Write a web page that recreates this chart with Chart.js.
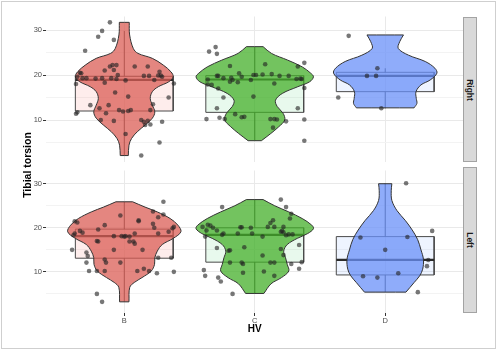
<!DOCTYPE html>
<html><head><meta charset="utf-8">
<script src="https://cdn.jsdelivr.net/npm/chart.js@4.4.1/dist/chart.umd.min.js"></script>
<style>
html,body{margin:0;padding:0;background:#fff;}
#wrap{position:relative;width:500px;height:351px;overflow:hidden;font-family:"Liberation Sans",Arial,sans-serif;background:#fff;}
#wrap canvas{position:absolute;left:0;}
#frame{position:absolute;left:1px;top:1px;width:495px;height:348px;box-sizing:border-box;border:1px solid #cfcfcf;}
.strip{position:absolute;left:463px;width:14px;background:#d9d9d9;border:1px solid #a3a3a3;box-sizing:border-box;}
.strip span{position:absolute;left:50%;top:50%;transform:translate(-50%,-50%) rotate(90deg);font-weight:bold;font-size:8.5px;color:#1a1a1a;white-space:nowrap;}
#ytitle{position:absolute;left:27px;top:165px;transform:translate(-50%,-50%) rotate(-90deg);font-weight:bold;font-size:10.5px;color:#000;white-space:nowrap;}
</style>
</head><body>
<div id="wrap">
  <canvas id="cTop" width="500" height="170" style="top:0px"></canvas>
  <canvas id="cBot" width="500" height="186" style="top:165px"></canvas>
  <div class="strip" style="top:17px;height:145px"><span>Right</span></div>
  <div class="strip" style="top:167px;height:146px"><span>Left</span></div>
  <div id="ytitle">Tibial torsion</div>
  <div id="frame"></div>
</div>
<script>
// ---------- data ----------
const categories = ['B', 'C', 'D'];
const panels = ['Right', 'Left'];
const yTickValues = [5, 10, 15, 20, 25, 30];
const yLabelValues = [10, 20, 30];

// violin outlines: value levels (top to bottom) and half widths (x units)
const rightB_levels = [31.7, 28.9, 25.9, 24.8, 23.7, 22.2, 20.7, 19.6, 18.5, 17.4, 16.3, 14.8, 13.3, 11.8, 10.4, 8.9, 7.4, 5.9, 4.4, 2.1];
const rightB_widths = [0.038, 0.041, 0.069, 0.105, 0.215, 0.299, 0.358, 0.375, 0.341, 0.261, 0.215, 0.199, 0.215, 0.234, 0.215, 0.161, 0.100, 0.056, 0.036, 0.031];
const rightC_levels = [26.3, 24.8, 23.3, 21.8, 20.4, 19.6, 18.5, 17.4, 15.9, 14.4, 13.0, 11.5, 10.0, 8.5, 7.0, 5.4];
const rightC_widths = [0.064, 0.128, 0.253, 0.364, 0.429, 0.450, 0.421, 0.330, 0.211, 0.159, 0.172, 0.217, 0.230, 0.184, 0.123, 0.051];
const rightD_levels = [28.9, 27.4, 25.9, 24.4, 23.0, 21.5, 20.4, 18.9, 17.8, 16.3, 14.8, 13.7, 12.7];
const rightD_widths = [0.140, 0.111, 0.100, 0.179, 0.307, 0.381, 0.396, 0.345, 0.274, 0.236, 0.238, 0.243, 0.221];
const leftB_levels = [25.9, 24.7, 23.6, 22.1, 20.6, 19.1, 17.6, 16.2, 14.7, 13.2, 11.7, 10.2, 8.7, 7.6, 6.5, 3.2];
const leftB_widths = [0.064, 0.159, 0.253, 0.352, 0.411, 0.434, 0.375, 0.291, 0.253, 0.234, 0.232, 0.207, 0.136, 0.077, 0.042, 0.036];
const leftC_levels = [26.4, 25.0, 23.6, 22.1, 20.6, 19.8, 18.7, 17.6, 16.2, 14.7, 13.2, 11.7, 10.2, 8.7, 7.3, 5.1];
const leftC_widths = [0.064, 0.153, 0.261, 0.364, 0.437, 0.450, 0.406, 0.326, 0.249, 0.222, 0.236, 0.249, 0.261, 0.205, 0.125, 0.070];
const leftD_levels = [30.0, 28.4, 26.2, 23.9, 21.7, 19.5, 17.3, 15.0, 12.8, 10.6, 9.1, 7.6, 5.4];
const leftD_widths = [0.051, 0.046, 0.051, 0.090, 0.153, 0.207, 0.249, 0.274, 0.293, 0.287, 0.264, 0.222, 0.159];

// box stats: [lower whisker, Q1, median, Q3, upper whisker]
const rightB_box = [2.1, 12.0, 18.9, 19.7, 29.8];
const rightC_box = [5.4, 11.7, 19.0, 19.85, 26.2];
const rightD_box = [12.6, 16.3, 19.8, 20.6, 21.5];
const leftB_box = [3.2, 13.1, 18.1, 19.7, 25.9];
const leftC_box = [5.0, 12.2, 18.4, 20.0, 26.4];
const leftD_box = [5.4, 9.3, 12.7, 18.0, 30.1];

// jittered observations: values and horizontal jitter (x units)
const rightB_y = [31.7, 29.8, 28.5, 27.8, 25.4, 22.2, 22.2, 21.9, 21.0, 21.1, 20.0, 21.9, 21.9, 20.7, 20.5, 20.4, 19.6, 19.3, 19.3, 19.2, 19.3, 18.3, 19.3, 19.1, 18.8, 19.8, 19.8, 18.9, 19.9, 19.9, 19.6, 18.0, 18.1, 16.1, 15.2, 15.0, 13.5, 13.3, 13.3, 12.6, 11.5, 12.2, 11.9, 12.0, 12.2, 11.7, 11.4, 12.2, 10.0, 9.8, 10.0, 9.6, 9.8, 8.9, 9.0, 9.6, 6.9, 5.0, 2.1];
const rightB_jit = [-0.11, -0.17, -0.20, -0.08, -0.30, -0.09, -0.06, -0.11, -0.15, -0.08, -0.05, 0.08, 0.18, 0.27, -0.34, -0.33, -0.36, -0.32, -0.29, -0.22, -0.17, -0.15, -0.10, -0.06, 0.01, 0.15, 0.19, 0.23, 0.26, 0.28, 0.29, -0.37, 0.38, -0.07, 0.03, 0.34, 0.22, -0.26, -0.12, -0.19, -0.14, -0.04, -0.01, 0.03, 0.05, -0.36, -0.37, 0.20, -0.18, -0.08, 0.13, 0.15, 0.18, 0.16, 0.20, 0.29, 0.01, 0.27, 0.13];
const rightC_y = [25.2, 26.2, 24.7, 22.4, 22.0, 21.9, 22.7, 19.8, 19.8, 19.4, 20.4, 19.6, 18.5, 19.3, 18.9, 18.4, 19.0, 20.0, 20.0, 20.1, 20.2, 19.8, 18.1, 19.8, 19.1, 19.2, 19.1, 18.9, 17.9, 17.8, 17.0, 17.1, 15.0, 15.2, 12.6, 12.6, 11.3, 10.6, 10.7, 10.2, 10.5, 10.2, 10.2, 10.2, 10.1, 9.7, 8.3, 10.1, 5.4];
const rightC_jit = [-0.35, -0.30, -0.29, 0.08, -0.19, 0.33, 0.38, -0.29, -0.28, -0.18, -0.12, -0.10, -0.19, -0.24, -0.17, -0.13, -0.36, -0.01, 0.01, 0.06, 0.13, 0.19, 0.15, 0.26, 0.32, 0.35, 0.36, -0.03, -0.36, -0.33, -0.28, 0.38, -0.24, -0.01, -0.29, 0.33, -0.15, -0.10, -0.08, -0.37, -0.27, -0.23, 0.12, 0.15, 0.17, 0.24, 0.14, 0.38, 0.38];
const rightD_y = [28.7, 21.5, 19.8, 19.8, 15.0, 12.6];
const rightD_jit = [-0.28, -0.06, -0.14, -0.07, -0.36, -0.03];
const leftB_y = [25.9, 23.7, 22.4, 23.0, 22.8, 21.7, 21.5, 21.5, 21.2, 20.6, 20.9, 20.0, 20.2, 19.9, 19.1, 18.7, 19.6, 19.3, 18.9, 18.7, 18.3, 18.7, 18.0, 18.1, 18.0, 18.1, 18.1, 16.9, 16.9, 17.0, 16.9, 16.4, 15.0, 15.0, 15.0, 14.4, 13.6, 12.8, 12.1, 12.1, 13.2, 13.2, 12.1, 10.2, 10.2, 10.2, 10.2, 10.7, 10.2, 9.7, 10.0, 5.0, 3.2];
const leftB_jit = [0.30, 0.22, 0.26, 0.30, -0.03, 0.11, 0.11, -0.38, -0.36, -0.15, 0.22, 0.23, 0.38, 0.37, 0.34, 0.26, -0.20, -0.34, -0.32, -0.38, -0.39, 0.08, 0.04, -0.02, 0.00, 0.01, -0.08, 0.07, 0.04, -0.21, -0.20, 0.08, -0.40, -0.08, 0.14, -0.29, -0.28, -0.15, -0.14, -0.03, 0.26, 0.36, -0.29, -0.27, -0.21, -0.15, 0.10, 0.15, 0.19, 0.25, 0.38, -0.21, -0.17];
const leftC_y = [26.4, 24.7, 24.7, 23.2, 22.1, 21.7, 21.1, 20.2, 20.2, 20.2, 19.3, 19.1, 19.0, 18.5, 18.5, 18.3, 18.0, 20.1, 20.1, 20.0, 18.7, 18.7, 18.7, 20.2, 20.7, 20.5, 20.0, 19.4, 19.4, 18.4, 18.0, 15.6, 16.1, 15.4, 14.8, 14.9, 15.2, 13.7, 13.8, 12.1, 12.1, 12.1, 12.1, 11.8, 11.8, 12.2, 10.7, 9.8, 10.1, 9.1, 10.4, 9.1, 8.7, 7.8, 5.0];
const leftC_jit = [0.20, -0.25, 0.24, 0.28, 0.27, 0.14, 0.12, 0.10, 0.15, 0.22, 0.21, 0.20, 0.22, 0.26, 0.29, 0.24, 0.06, -0.11, -0.10, -0.03, -0.02, -0.13, -0.24, -0.40, -0.36, -0.34, -0.32, -0.29, -0.37, -0.25, -0.38, -0.08, 0.34, -0.29, -0.20, -0.19, 0.20, 0.06, 0.22, -0.19, -0.10, 0.12, 0.15, -0.09, 0.28, 0.36, 0.34, -0.09, 0.07, 0.15, -0.39, -0.38, -0.28, -0.26, -0.17];
const leftD_y = [30.1, 19.3, 17.8, 17.9, 15.0, 12.7, 11.3, 9.7, 9.0, 8.7, 5.4];
const leftD_jit = [0.16, 0.36, -0.19, 0.17, 0.00, 0.33, 0.32, 0.10, -0.17, -0.06, 0.25];

// ---------- styling ----------
const violinFill = ['rgba(219,94,86,0.75)', 'rgba(68,175,42,0.75)', 'rgba(106,144,248,0.75)'];
const boxFill = ['rgba(248,118,109,0.13)', 'rgba(0,186,56,0.09)', 'rgba(97,156,255,0.11)'];
const BOX_HALF = 0.375;
const Y_MIN = 0.667, Y_MAX = 33.0;
const FONT = '"Liberation Sans", Arial, sans-serif';

function violinOutline(c, levels, widths) {
  const n = levels.length - 1;
  const L = i => ({x: c - widths[i], y: levels[i]});
  const R = i => ({x: c + widths[i], y: levels[i]});
  const pts = [];
  for (let i = n; i >= 0; i--) pts.push(L(i));
  pts.push(L(0)); pts.push(R(0));
  for (let i = 0; i <= n; i++) pts.push(R(i));
  pts.push(R(n)); pts.push(L(n)); pts.push(L(n));
  return pts;
}

function groupDatasets(gi, levels, widths, box, ys, jit) {
  const c = gi + 1;
  const [lo, q1, med, q3, hi] = box;
  const base = {type: 'line', pointRadius: 0, pointHoverRadius: 0, tension: 0};
  return [
    Object.assign({}, base, {
      data: [{x: c - BOX_HALF, y: q1}, {x: c - BOX_HALF, y: q3}, {x: c + BOX_HALF, y: q3}, {x: c + BOX_HALF, y: q1}, {x: c - BOX_HALF, y: q1}],
      fill: 'shape', backgroundColor: boxFill[gi], borderColor: '#4a4a4a', borderWidth: 1, order: 5
    }),
    Object.assign({}, base, {data: [{x: c, y: q3}, {x: c, y: hi}], fill: false, borderColor: '#3a3a3a', borderWidth: 1, order: 4}),
    Object.assign({}, base, {data: [{x: c, y: lo}, {x: c, y: q1}], fill: false, borderColor: '#3a3a3a', borderWidth: 1, order: 4}),
    Object.assign({}, base, {data: [{x: c - BOX_HALF, y: med}, {x: c + BOX_HALF, y: med}], fill: false, borderColor: '#2a2a2a', borderWidth: 2.2, order: 4}),
    Object.assign({}, base, {
      data: violinOutline(c, levels, widths), tension: 0.35,
      fill: 'shape', backgroundColor: violinFill[gi], borderColor: '#333333', borderWidth: 1, order: 2
    }),
    {
      type: 'line', showLine: false, order: 1,
      data: ys.map((v, i) => ({x: c + jit[i], y: v})),
      pointRadius: 2.3, pointHoverRadius: 2.3, pointBorderWidth: 0,
      pointBackgroundColor: 'rgba(35,35,35,0.62)', borderColor: 'rgba(0,0,0,0)'
    }
  ];
}

function makeChart(id, datasets, isBottom) {
  return new Chart(document.getElementById(id), {
    type: 'line',
    data: {datasets: datasets},
    options: {
      responsive: false, animation: false, devicePixelRatio: 1, events: [],
      layout: {padding: {left: 0, right: 36.5, top: isBottom ? 2.5 : 16.5, bottom: 0}},
      plugins: {legend: {display: false}, tooltip: {enabled: false}},
      scales: {
        x: {
          type: 'linear', min: 0.4, max: 3.6,
          afterBuildTicks: s => { s.ticks = [1, 2, 3].map(v => ({value: v})); },
          afterFit: s => { s.height = isBottom ? 38 : 8; },
          ticks: {display: isBottom, autoSkip: false, maxRotation: 0, padding: 0,
                  callback: v => categories[Math.round(v) - 1],
                  font: {family: FONT, size: 7.5}, color: '#4d4d4d'},
          grid: {color: '#e9e9e9', lineWidth: 1, drawTicks: isBottom, tickLength: 3, tickColor: '#333333', tickWidth: 1},
          border: {display: false},
          title: {display: isBottom, text: 'HV', color: '#000', padding: 16,
                  font: {family: FONT, size: 10, weight: 'bold'}}
        },
        y: {
          type: 'linear', min: Y_MIN, max: Y_MAX,
          afterBuildTicks: s => { s.ticks = yTickValues.map(v => ({value: v})); },
          afterFit: s => { s.width = 46; },
          ticks: {autoSkip: false, padding: 1,
                  callback: v => (yLabelValues.includes(v) ? String(v) : ''),
                  font: {family: FONT, size: 7.5}, color: '#4d4d4d'},
          grid: {
            color: ctx => (ctx.tick && yLabelValues.includes(ctx.tick.value)) ? '#e9e9e9' : '#f3f3f3',
            lineWidth: 1, drawTicks: true, tickLength: 3, tickWidth: 1,
            tickColor: ctx => (ctx.tick && yLabelValues.includes(ctx.tick.value)) ? '#333333' : 'rgba(0,0,0,0)'
          },
          border: {display: false}
        }
      }
    }
  });
}

const topSets = [].concat(
  groupDatasets(0, rightB_levels, rightB_widths, rightB_box, rightB_y, rightB_jit),
  groupDatasets(1, rightC_levels, rightC_widths, rightC_box, rightC_y, rightC_jit),
  groupDatasets(2, rightD_levels, rightD_widths, rightD_box, rightD_y, rightD_jit)
);
const botSets = [].concat(
  groupDatasets(0, leftB_levels, leftB_widths, leftB_box, leftB_y, leftB_jit),
  groupDatasets(1, leftC_levels, leftC_widths, leftC_box, leftC_y, leftC_jit),
  groupDatasets(2, leftD_levels, leftD_widths, leftD_box, leftD_y, leftD_jit)
);
makeChart('cTop', topSets, false);
makeChart('cBot', botSets, true);
</script>
</body></html>
